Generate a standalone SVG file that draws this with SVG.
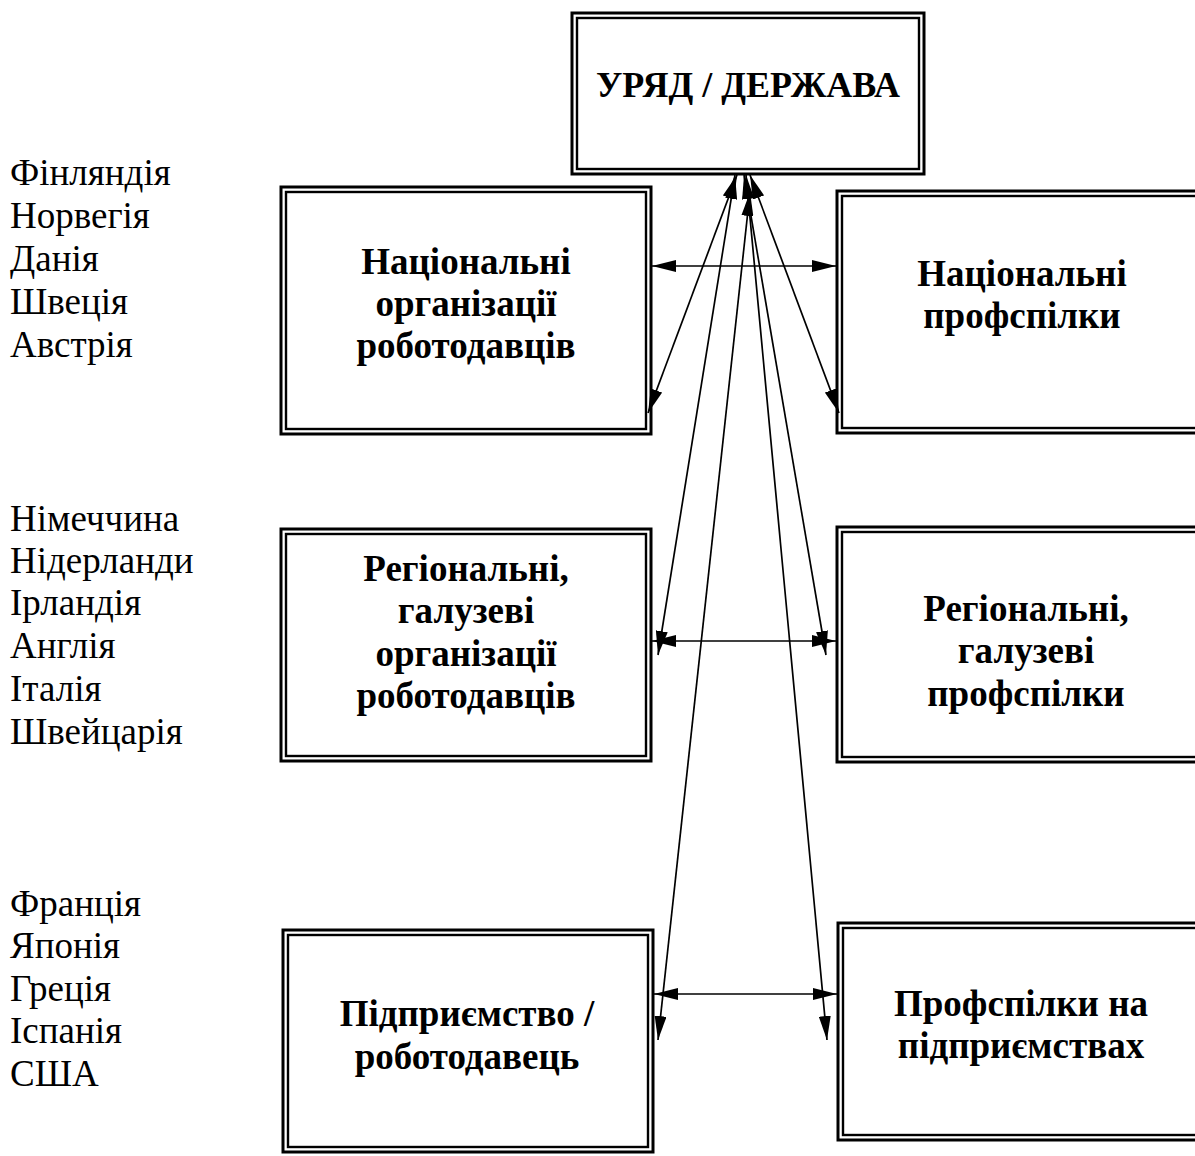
<svg xmlns="http://www.w3.org/2000/svg" width="1195" height="1156" viewBox="0 0 1195 1156">
<defs>
<marker id="ah" viewBox="0 0 24 12" refX="24" refY="6" markerWidth="24" markerHeight="12" markerUnits="userSpaceOnUse" orient="auto-start-reverse">
<path d="M0,0 L24,6 L0,12 Z" fill="#000"/>
</marker>
</defs>
<style>
.o{fill:#fff;stroke:#000;stroke-width:3}
.i{fill:none;stroke:#000;stroke-width:2.4}
.t{font-family:"Liberation Serif","Times New Roman",serif;font-weight:bold;font-size:37px;text-anchor:middle;fill:#000}
.c{font-family:"Liberation Serif","Times New Roman",serif;font-size:37px;fill:#000}
.e{stroke:#000;stroke-width:1.7;fill:none;marker-start:url(#ah);marker-end:url(#ah)}
</style>
<rect width="1195" height="1156" fill="#fff"/>

<g id="countries1">
<text class="c" x="10" y="185">Фінляндія</text>
<text class="c" x="10" y="228">Норвегія</text>
<text class="c" x="10" y="271">Данія</text>
<text class="c" x="10" y="314">Швеція</text>
<text class="c" x="10" y="357">Австрія</text>
</g>
<g id="countries2">
<text class="c" x="10" y="531">Німеччина</text>
<text class="c" x="10" y="573">Нідерланди</text>
<text class="c" x="10" y="615">Ірландія</text>
<text class="c" x="10" y="658">Англія</text>
<text class="c" x="10" y="701">Італія</text>
<text class="c" x="10" y="744">Швейцарія</text>
</g>
<g id="countries3">
<text class="c" x="10" y="916">Франція</text>
<text class="c" x="10" y="958">Японія</text>
<text class="c" x="10" y="1001">Греція</text>
<text class="c" x="10" y="1043">Іспанія</text>
<text class="c" x="10" y="1086">США</text>
</g>

<g id="gov">
<rect class="o" x="572" y="13" width="352" height="161"/>
<rect class="i" x="577" y="18" width="342" height="151"/>
<text class="t" x="748" y="97" style="font-size:36px">УРЯД / ДЕРЖАВА</text>
</g>

<g id="nat-emp">
<rect class="o" x="281" y="187" width="370" height="247"/>
<rect class="i" x="286" y="192" width="360" height="237"/>
<text class="t" x="466" y="274">Національні</text>
<text class="t" x="466" y="316">організації</text>
<text class="t" x="466" y="358">роботодавців</text>
</g>

<g id="nat-union">
<rect class="o" x="837" y="191" width="380" height="242"/>
<rect class="i" x="842" y="196" width="370" height="232"/>
<text class="t" x="1022" y="286">Національні</text>
<text class="t" x="1022" y="328">профспілки</text>
</g>

<g id="reg-emp">
<rect class="o" x="281" y="529" width="370" height="232"/>
<rect class="i" x="286" y="534" width="360" height="222"/>
<text class="t" x="466" y="581">Регіональні,</text>
<text class="t" x="466" y="623">галузеві</text>
<text class="t" x="466" y="666">організації</text>
<text class="t" x="466" y="708">роботодавців</text>
</g>

<g id="reg-union">
<rect class="o" x="837" y="527" width="380" height="235"/>
<rect class="i" x="842" y="532" width="370" height="225"/>
<text class="t" x="1026" y="621">Регіональні,</text>
<text class="t" x="1026" y="663">галузеві</text>
<text class="t" x="1026" y="706">профспілки</text>
</g>

<g id="ent-emp">
<rect class="o" x="283" y="930" width="370" height="222"/>
<rect class="i" x="288" y="935" width="360" height="212"/>
<text class="t" x="467" y="1026">Підприємство /</text>
<text class="t" x="467" y="1069">роботодавець</text>
</g>

<g id="ent-union">
<rect class="o" x="838" y="923" width="380" height="217"/>
<rect class="i" x="843" y="928" width="370" height="207"/>
<text class="t" x="1021" y="1016">Профспілки на</text>
<text class="t" x="1021" y="1058">підприємствах</text>
</g>

<g id="connectors">
<line class="e" x1="652" y1="266" x2="836" y2="266"/>
<line class="e" x1="652" y1="641" x2="836" y2="641"/>
<line class="e" x1="654" y1="994" x2="837" y2="994"/>
<line class="e" x1="737" y1="175" x2="648" y2="413"/>
<line class="e" x1="750" y1="175" x2="839" y2="413"/>
<line class="e" x1="735" y1="175" x2="658" y2="655"/>
<line class="e" x1="744" y1="175" x2="826" y2="655"/>
<line class="e" x1="750" y1="192" x2="658" y2="1040"/>
<line class="e" x1="746" y1="175" x2="827" y2="1040"/>
</g>
</svg>
